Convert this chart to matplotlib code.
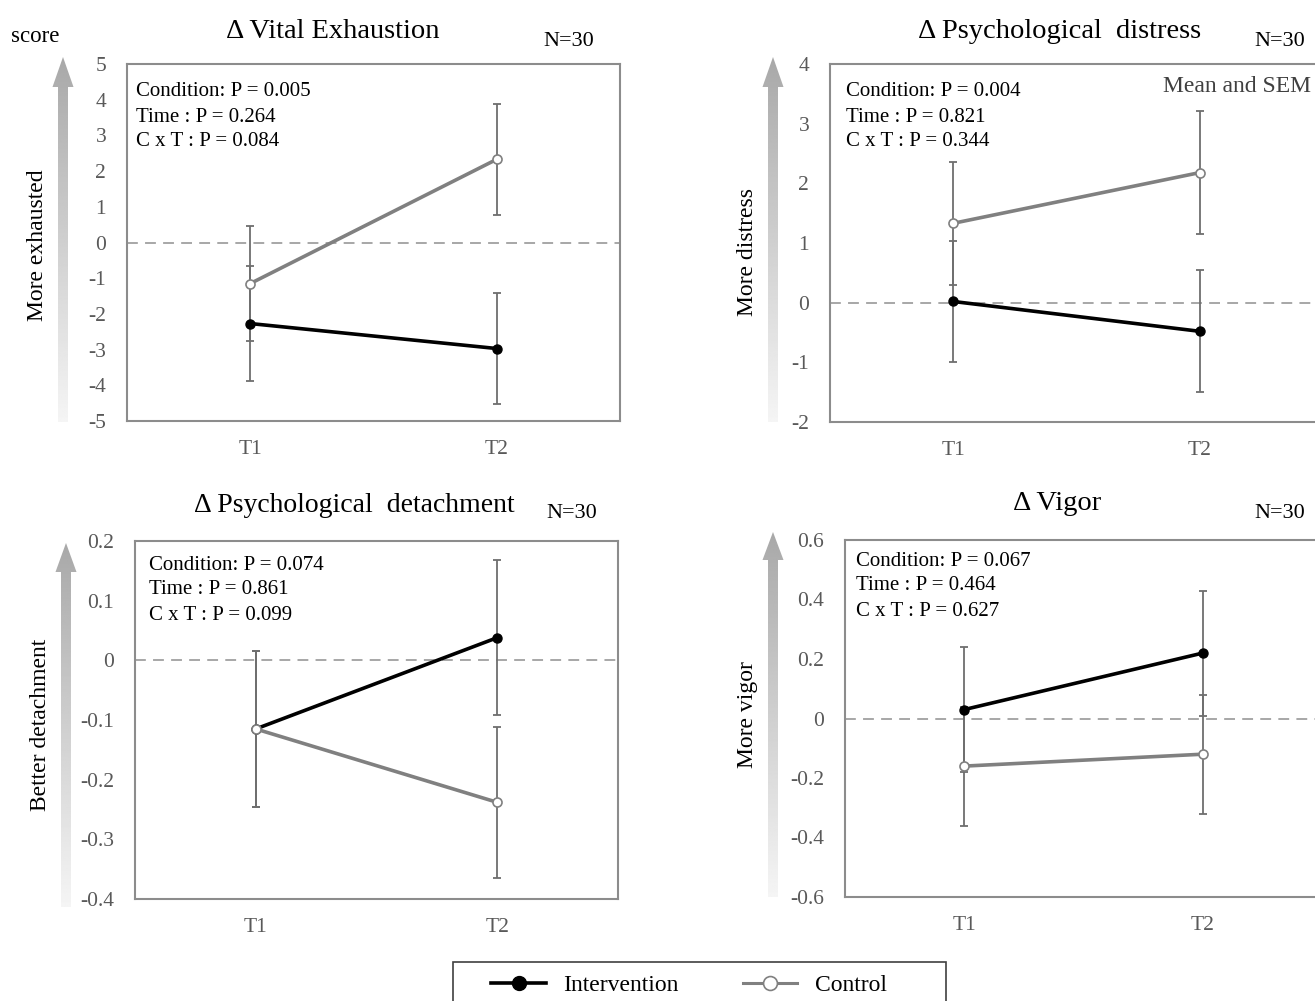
import numpy as np
import matplotlib
matplotlib.use("Agg")
import matplotlib.pyplot as plt
from matplotlib.patches import Polygon, Rectangle
from matplotlib.lines import Line2D

plt.rcParams['font.family'] = ['Liberation Serif', 'DejaVu Serif']

W, H = 1315, 1001

# time points
times = ["T1", "T2"]

# Vital exhaustion
ve_int = [-2.27, -2.97]
ve_int_sem = [1.6, 1.56]
ve_ctl = [-1.15, 2.33]
ve_ctl_sem = [1.6, 1.56]

# Psychological distress
pd_int = [0.02, -0.48]
pd_int_sem = [1.02, 1.02]
pd_ctl = [1.33, 2.18]
pd_ctl_sem = [1.03, 1.03]

# Psychological detachment
det_int = [-0.115, 0.038]
det_int_sem = [0.13, 0.13]
det_ctl = [-0.115, -0.238]
det_ctl_sem = [0.13, 0.127]

# Vigor
vig_int = [0.03, 0.22]
vig_int_sem = [0.21, 0.21]
vig_ctl = [-0.16, -0.12]
vig_ctl_sem = [0.20, 0.20]

stats_ve = ["Condition: P = 0.005", "Time : P = 0.264", "C x T : P = 0.084"]
stats_pd = ["Condition: P = 0.004", "Time : P = 0.821", "C x T : P = 0.344"]
stats_det = ["Condition: P = 0.074", "Time : P = 0.861", "C x T : P = 0.099"]
stats_vig = ["Condition: P = 0.067", "Time : P = 0.464", "C x T : P = 0.627"]

fig = plt.figure(figsize=(W / 100, H / 100), dpi=100)

GRID = '#8c8c8c'
TICKC = '#595959'
ERRC = '#6e6e6e'
CTLC = '#808080'


def px_axes(left, top, right, bottom):
    return fig.add_axes([left / W, 1 - bottom / H, (right - left) / W, (bottom - top) / H])


def panel(box, mi, mi_sem, mc, mc_sem, ylim, yticks, yfmt):
    ax = px_axes(*box)
    x = np.arange(1, len(times) + 1)
    ax.axhline(0, color='#a0a0a0', lw=1.3, ls=(0, (6, 4)), zorder=1)
    ax.errorbar(x, mc, yerr=mc_sem, fmt='none', ecolor=ERRC, elinewidth=1.3,
                capsize=3, capthick=1.3, zorder=2)
    ax.errorbar(x, mi, yerr=mi_sem, fmt='none', ecolor=ERRC, elinewidth=1.3,
                capsize=3, capthick=1.3, zorder=2)
    ax.plot(x, mi, color='black', lw=2.6, marker='o', ms=6.5,
            mfc='black', mec='black', zorder=3)
    ax.plot(x, mc, color=CTLC, lw=2.6, marker='o', ms=6.5,
            mfc='white', mec=CTLC, mew=1.2, zorder=4)
    ax.set_xlim(0.5, 2.5)
    ax.set_ylim(*ylim)
    ax.set_yticks(yticks)
    ax.set_yticklabels([yfmt(v) for v in yticks])
    ax.set_xticks(x)
    ax.set_xticklabels(times)
    ax.tick_params(length=0, labelsize=15.5, colors=TICKC)
    ax.tick_params(axis='y', pad=15)
    ax.tick_params(axis='x', pad=14)
    for s in ax.spines.values():
        s.set_color(GRID)
        s.set_linewidth(1.5)
    return ax


def intfmt(v):
    return "%d" % round(v)


def decfmt(v):
    return "0" if abs(v) < 1e-9 else ("%.1f" % v)


panel((127, 64, 620, 421), ve_int, ve_int_sem, ve_ctl, ve_ctl_sem,
      (-5, 5), np.arange(-5, 6, 1), intfmt)
panel((830, 64, 1323, 422), pd_int, pd_int_sem, pd_ctl, pd_ctl_sem,
      (-2, 4), np.arange(-2, 5, 1), intfmt)
panel((135, 541, 618, 899), det_int, det_int_sem, det_ctl, det_ctl_sem,
      (-0.4, 0.2), np.round(np.arange(-0.4, 0.21, 0.1), 1), decfmt)
panel((845, 540, 1322, 897), vig_int, vig_int_sem, vig_ctl, vig_ctl_sem,
      (-0.6, 0.6), np.round(np.arange(-0.6, 0.61, 0.2), 1), decfmt)

# overlay in pixel coordinates for arrows and annotations
ov = fig.add_axes([0, 0, 1, 1])
ov.set_xlim(0, W)
ov.set_ylim(H, 0)
ov.axis('off')

grad = np.linspace(0.66, 0.96, 256).reshape(-1, 1)


def grad_arrow(xc, tip, base, bottom, shaft=10, head=21):
    pts = [(xc - shaft / 2, bottom), (xc - shaft / 2, base), (xc - head / 2, base),
           (xc, tip), (xc + head / 2, base), (xc + shaft / 2, base),
           (xc + shaft / 2, bottom)]
    poly = Polygon(pts, closed=True, facecolor='none', edgecolor='none')
    ov.add_patch(poly)
    im = ov.imshow(grad, cmap='gray', vmin=0, vmax=1, aspect='auto',
                   extent=(xc - head, xc + head, bottom, tip), interpolation='bilinear')
    im.set_clip_path(poly)


grad_arrow(63, 57, 87, 422)
grad_arrow(773, 57, 87, 422)
grad_arrow(66, 543, 572, 907)
grad_arrow(773, 532, 560, 897)
ov.set_xlim(0, W)
ov.set_ylim(H, 0)

ylab_kw = dict(rotation=90, ha='center', va='center', fontsize=17, color='black')
ov.text(38, 245, "More exhausted", **ylab_kw)
ov.text(748, 252, "More distress", **ylab_kw)
ov.text(41, 725, "Better detachment", **ylab_kw)
ov.text(748, 715, "More vigor", **ylab_kw)

ov.text(35, 37, "score", ha='center', va='center', fontsize=16.5)

title_kw = dict(ha='center', va='center', fontsize=20.5)
ov.text(333, 31, "\u0394 Vital Exhaustion", **title_kw)
ov.text(1060, 31, "\u0394 Psychological  distress", **title_kw)
ov.text(354, 505, "\u0394 Psychological  detachment", fontsize=20, ha='center', va='center')
ov.text(1057, 503, "\u0394 Vigor", **title_kw)

n_kw = dict(ha='center', va='center', fontsize=16)
ov.text(569, 42, "N=30", **n_kw)
ov.text(1280, 42, "N=30", **n_kw)
ov.text(572, 514, "N=30", **n_kw)
ov.text(1280, 514, "N=30", **n_kw)

ov.text(1311, 86, "Mean and SEM", ha='right', va='center', fontsize=17, color='#404040')

for (x0, y0), lines in [((136, 92), stats_ve), ((846, 92), stats_pd),
                        ((149, 565), stats_det), ((856, 561), stats_vig)]:
    for i, s in enumerate(lines):
        ov.text(x0, y0 + 25 * i, s, ha='left', va='center', fontsize=15)

# legend
ov.add_patch(Rectangle((453, 962), 493, 60, facecolor='white', edgecolor='#404040', lw=1.2))
h_int = Line2D([], [], color='black', lw=2.6, marker='o', ms=10, mfc='black', mec='black')
h_ctl = Line2D([], [], color=CTLC, lw=2.2, marker='o', ms=10, mfc='white', mec=CTLC, mew=1.2)
fig.legend([h_int, h_ctl], ["Intervention", "Control"], loc='center',
           bbox_to_anchor=(689 / W, 1 - 985 / H), ncol=2, frameon=False,
           fontsize=17, handlelength=2.3, columnspacing=2.7, handletextpad=0.75)

fig.savefig("out.png", dpi=100)
